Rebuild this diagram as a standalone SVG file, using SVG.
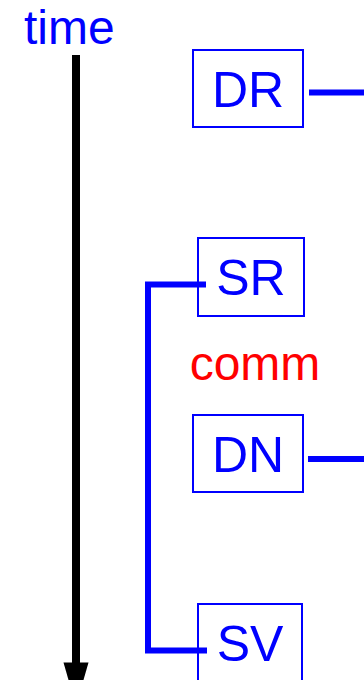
<svg xmlns="http://www.w3.org/2000/svg" width="364" height="680" viewBox="0 0 364 680">
<style>
.box{fill:#fff;stroke:#0000ff;stroke-width:2}
.lbl{font-family:"Liberation Sans",Arial,sans-serif;font-size:50px;fill:#0000ff;text-anchor:middle}
.conn{fill:none;stroke:#0000ff;stroke-width:6}
</style>
<rect width="364" height="680" fill="#fff"/>
<g id="time-axis">
<text x="24" y="44" font-family="Liberation Sans,Arial,sans-serif" font-size="48" fill="#0000ff">time</text>
<line x1="76" y1="55" x2="76" y2="664" stroke="#000" stroke-width="8"/>
<polygon points="63.5,662.5 88.5,662.5 76,706" fill="#000"/>
</g>
<g id="connectors">
<line class="conn" x1="309" y1="92.5" x2="364" y2="92.5"/>
<polyline class="conn" points="206,284.5 148,284.5 148,650.5 207,650.5"/>
<line class="conn" x1="308" y1="459" x2="364" y2="459"/>
</g>
<g id="DR">
<rect class="box" x="193" y="50" width="110" height="77"/>
<text class="lbl" x="248" y="107">DR</text>
</g>
<g id="SR">
<rect class="box" x="198" y="238" width="106" height="78" fill="none" style="fill:none"/>
<text class="lbl" x="251" y="295">SR</text>
</g>
<g id="comm">
<text x="255" y="380" font-family="Liberation Sans,Arial,sans-serif" font-size="48" fill="#ff0000" text-anchor="middle">comm</text>
</g>
<g id="DN">
<rect class="box" x="193" y="415" width="110" height="77"/>
<text class="lbl" x="248" y="472">DN</text>
</g>
<g id="SV">
<rect class="box" x="198" y="604" width="104" height="80" style="fill:none"/>
<text class="lbl" x="250" y="661">SV</text>
</g>
</svg>
